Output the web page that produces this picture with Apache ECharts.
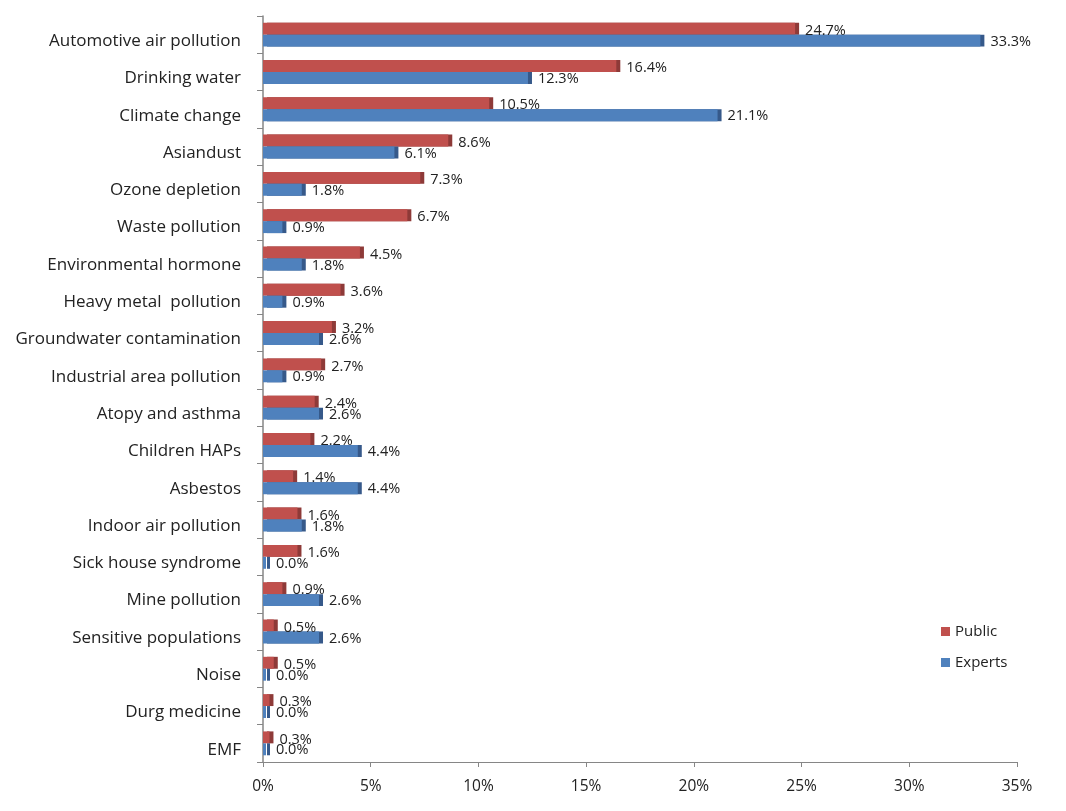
<!DOCTYPE html>
<html>
<head>
<meta charset="utf-8">
<script src="https://cdn.jsdelivr.net/npm/echarts@6/dist/echarts.min.js"></script>
<style>
html,body{margin:0;padding:0;background:#fff;}
#chart{width:1066px;height:811px;}
</style>
</head>
<body>
<div id="chart"></div>
<script>
var categories = ["Automotive air pollution","Drinking water","Climate change","Asiandust","Ozone depletion","Waste pollution","Environmental hormone","Heavy metal  pollution","Groundwater contamination","Industrial area pollution","Atopy and asthma","Children HAPs","Asbestos","Indoor air pollution","Sick house syndrome","Mine pollution","Sensitive populations","Noise","Durg medicine","EMF"];
var publicValues = [24.7,16.4,10.5,8.6,7.3,6.7,4.5,3.6,3.2,2.7,2.4,2.2,1.4,1.6,1.6,0.9,0.5,0.5,0.3,0.3];
var expertValues = [33.3,12.3,21.1,6.1,1.8,0.9,1.8,0.9,2.6,0.9,2.6,4.4,4.4,1.8,0.0,2.6,2.6,0.0,0.0,0.0];
var xTicks = {min:0, max:35, interval:5};

var chart = echarts.init(document.getElementById('chart'));
var font = '"Open Sans", "Noto Sans", sans-serif';
function lbl(p){ return p.value.toFixed(1) + '%'; }
chart.setOption({
  animation:false,
  textStyle:{fontFamily:font},
  grid:{left:263, right:49, top:16, bottom:49},
  legend:{
    orient:'vertical', left:936, top:619, itemGap:16,
    itemWidth:9, itemHeight:9, icon:'rect',
    textStyle:{fontSize:15, color:'#222', fontFamily:font},
    data:['Public','Experts']
  },
  xAxis:{
    type:'value', min:xTicks.min, max:xTicks.max, interval:xTicks.interval,
    axisLine:{show:true, lineStyle:{color:'#868686'}},
    axisTick:{show:true, length:5, lineStyle:{color:'#868686'}},
    splitLine:{show:false},
    axisLabel:{formatter:'{value}%', fontSize:15.5, color:'#222', margin:17}
  },
  yAxis:{
    type:'category', data:categories, inverse:true,
    axisLine:{show:true, lineStyle:{color:'#868686', width:1.5}},
    axisTick:{show:true, length:6, lineStyle:{color:'#868686'}},
    axisLabel:{
      color:'#222', margin:22,
      formatter:function(v){ return '{a|' + v + '}'; },
      rich:{a:{fontSize:17, color:'#222', fontFamily:font, padding:[13,0,0,0]}}
    }
  },
  series:[
    {name:'Public', type:'bar', data:publicValues, barGap:'0%', barCategoryGap:'36%', barMinHeight:3,
     itemStyle:{color:'#C0504D', shadowColor:'#8E3A38', shadowBlur:0, shadowOffsetX:4, shadowOffsetY:0},
     label:{show:true, position:'right', formatter:lbl, fontSize:14.5, color:'#222', distance:10, offset:[0,2]}},
    {name:'Experts', type:'bar', data:expertValues, barMinHeight:3,
     itemStyle:{color:'#4F81BD', shadowColor:'#36598A', shadowBlur:0, shadowOffsetX:4, shadowOffsetY:0},
     label:{show:true, position:'right', formatter:lbl, fontSize:14.5, color:'#222', distance:10, offset:[0,1]}}
  ]
});
</script>
</body>
</html>
